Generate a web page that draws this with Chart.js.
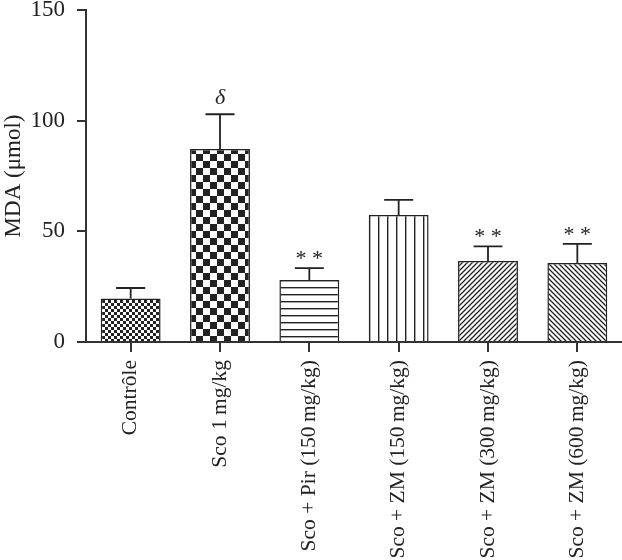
<!DOCTYPE html>
<html>
<head>
<meta charset="utf-8">
<script src="https://cdn.jsdelivr.net/npm/chart.js@4"></script>
<style>
  body { margin: 0; background: #fff; }
</style>
</head>
<body>
<canvas id="myChart" width="622" height="560"></canvas>
<script>
const groups = ['Contrôle', 'Sco 1\u2009mg/kg', 'Sco + Pir (150\u2009mg/kg)', 'Sco + ZM (150\u2009mg/kg)', 'Sco + ZM (300\u2009mg/kg)', 'Sco + ZM (600\u2009mg/kg)'];
const mda = [19.7, 87.2, 28.0, 57.4, 36.6, 35.7];
const sem = [4.7, 15.7, 5.4, 6.8, 6.6, 8.6];
const marks = ['', 'δ', '* *', '', '* *', '* *'];
const yTicks = [0, 50, 100, 150];

const ink = '#222';
const serif = 'Liberation Serif, DejaVu Serif, serif';

function tile(size, draw) {
  const c = document.createElement('canvas');
  c.width = size; c.height = size;
  const g = c.getContext('2d');
  g.fillStyle = '#fff';
  g.fillRect(0, 0, size, size);
  g.fillStyle = ink; g.strokeStyle = ink;
  draw(g, size);
  return document.getElementById('myChart').getContext('2d').createPattern(c, 'repeat');
}

const checker = (n) => tile(n * 2, (g) => { g.fillRect(0, 0, n, n); g.fillRect(n, n, n, n); });
const patterns = [
  checker(3),
  checker(7),
  tile(7, (g, s) => { g.fillRect(0, 0, s, 1.4); }),
  tile(9, (g, s) => { g.fillRect(0, 0, 1.4, s); }),
  tile(5, (g, s) => {
    g.lineWidth = 1.3;
    g.beginPath();
    g.moveTo(-1, s + 1); g.lineTo(s + 1, -1);
    g.moveTo(-1, 1); g.lineTo(1, -1);
    g.moveTo(s - 1, s + 1); g.lineTo(s + 1, s - 1);
    g.stroke();
  }),
  tile(5, (g, s) => {
    g.lineWidth = 1.3;
    g.beginPath();
    g.moveTo(-1, -1); g.lineTo(s + 1, s + 1);
    g.moveTo(s - 1, -1); g.lineTo(s + 1, 1);
    g.moveTo(-1, s - 1); g.lineTo(1, s + 1);
    g.stroke();
  })
];

const errorBars = {
  id: 'errorBars',
  afterDatasetsDraw(chart) {
    const ctx = chart.ctx;
    const y = chart.scales.y;
    const bars = chart.getDatasetMeta(0).data;
    ctx.save();
    ctx.strokeStyle = ink;
    ctx.lineWidth = 1.8;
    ctx.fillStyle = ink;
    ctx.textAlign = 'center';
    ctx.textBaseline = 'alphabetic';
    bars.forEach((bar, i) => {
      const top = y.getPixelForValue(mda[i] + sem[i]);
      ctx.beginPath();
      ctx.moveTo(bar.x, bar.y);
      ctx.lineTo(bar.x, top);
      ctx.moveTo(bar.x - 14.5, top);
      ctx.lineTo(bar.x + 14.5, top);
      ctx.stroke();
      if (marks[i] === 'δ') {
        ctx.font = 'italic 22px ' + serif;
        ctx.fillText(marks[i], bar.x, top - 10);
      } else if (marks[i]) {
        ctx.font = '22px ' + serif;
        ctx.fillText(marks[i], bar.x, top - 3);
      }
    });
    ctx.restore();
  }
};

new Chart(document.getElementById('myChart'), {
  type: 'bar',
  data: {
    labels: groups,
    datasets: [{
      data: mda,
      backgroundColor: patterns,
      borderColor: ink,
      borderWidth: 1.5,
      barPercentage: 0.67,
      categoryPercentage: 1
    }]
  },
  options: {
    responsive: false,
    animation: false,
    layout: { padding: { top: 10, right: 0, left: 0, bottom: 0 } },
    plugins: { legend: { display: false }, tooltip: { enabled: false } },
    scales: {
      x: {
        afterFit: (s) => { s.height = 218; s.paddingLeft = 0; s.paddingRight = 0; },
        grid: { offset: false, drawOnChartArea: false, tickLength: 10, color: '#333', lineWidth: 2 },
        border: { color: '#333', width: 2 },
        ticks: { minRotation: 90, maxRotation: 90, padding: 8, color: ink, font: { family: serif, size: 21.5 } }
      },
      y: {
        min: 0,
        max: 150,
        afterFit: (s) => { s.width = 86; s.paddingTop = 0; s.paddingBottom = 0; },
        afterBuildTicks: (s) => { s.ticks = yTicks.map((v) => ({ value: v })); },
        grid: { drawOnChartArea: false, tickLength: 9, color: '#333', lineWidth: 2 },
        border: { color: '#333', width: 2 },
        ticks: { padding: 12, color: ink, font: { family: serif, size: 23 } },
        title: { display: true, text: 'MDA (μmol)', color: ink, font: { family: serif, size: 23 }, padding: 0 }
      }
    }
  },
  plugins: [errorBars]
});
</script>
</body>
</html>
